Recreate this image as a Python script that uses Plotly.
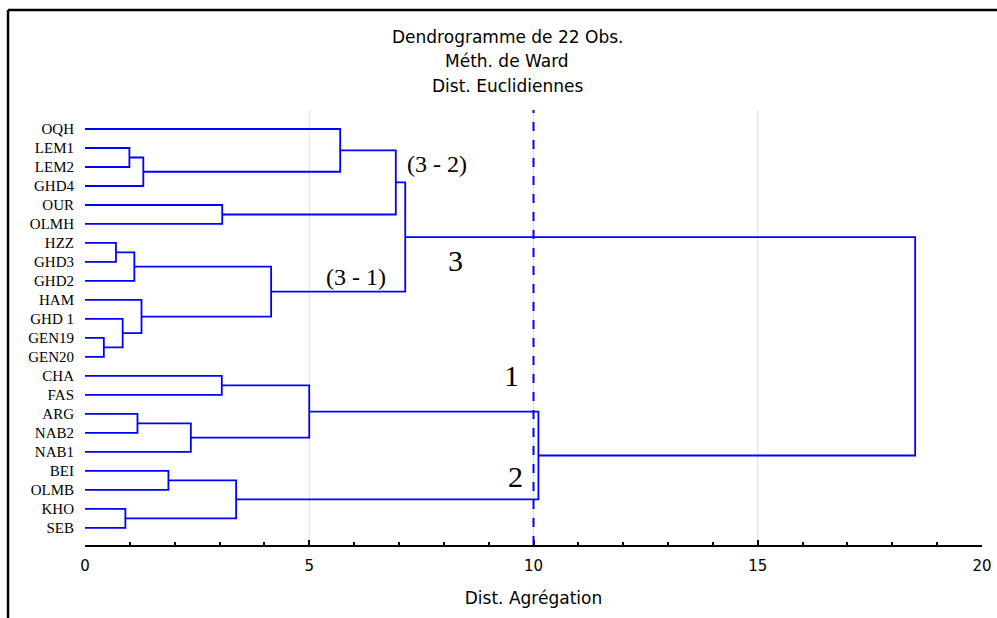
import plotly.graph_objects as go

# Leaves in display order (top to bottom)
labels = ["OQH", "LEM1", "LEM2", "GHD4", "OUR", "OLMH", "HZZ", "GHD3", "GHD2",
          "HAM", "GHD 1", "GEN19", "GEN20", "CHA", "FAS", "ARG", "NAB2", "NAB1",
          "BEI", "OLMB", "KHO", "SEB"]

# Linkage (scipy-like ids: 0..21 leaves, 22+ clusters in order of creation)
merge_left = [1, 22, 4, 6, 25, 11, 10, 9, 26, 0, 31, 32, 13, 15, 35, 34, 18, 20, 38, 37, 33]
merge_right = [2, 3, 5, 7, 8, 12, 27, 28, 29, 23, 24, 30, 14, 16, 17, 36, 19, 21, 39, 40, 41]
merge_height = [0.99, 1.30, 3.06, 0.69, 1.10, 0.42, 0.84, 1.26, 4.15, 5.69, 6.93, 7.14,
                3.05, 1.17, 2.36, 5.00, 1.86, 0.90, 3.37, 10.11, 18.51]

cut_level = [10]
grid_vals = [5, 10, 15]
x_ticks = [0, 5, 10, 15, 20]

title_lines = ["Dendrogramme de 22 Obs.", "Méth. de Ward", "Dist. Euclidiennes"]

ann_text = ["(3 - 2)", "(3 - 1)", "3", "1", "2"]
ann_x = [7.85, 6.04, 8.25, 9.5, 9.6]
ann_y = [1.85, 7.8, 6.9, 13.0, 18.3]
ann_size = [24, 24, 30, 30, 30]

# Build node coordinates
n = len(labels)
pos_y = {i: float(i) for i in range(n)}
pos_h = {i: 0.0 for i in range(n)}
xs, ys = [], []
for k, (a, b, h) in enumerate(zip(merge_left, merge_right, merge_height)):
    nid = n + k
    ya, yb = pos_y[a], pos_y[b]
    xs += [pos_h[a], h, h, pos_h[b], None]
    ys += [ya, ya, yb, yb, None]
    pos_y[nid] = (ya + yb) / 2
    pos_h[nid] = h

BLUE = "#0000FF"
fig = go.Figure()
fig.add_trace(go.Scatter(x=xs, y=ys, mode="lines",
                         line=dict(color=BLUE, width=1.8),
                         hoverinfo="skip", showlegend=False))

shapes = []
for g in grid_vals:
    shapes.append(dict(type="line", xref="x", yref="paper", x0=g, x1=g, y0=0, y1=1,
                       line=dict(color="#DDDDDD", width=1), layer="below"))
for c in cut_level:
    shapes.append(dict(type="line", xref="x", yref="paper", x0=c, x1=c, y0=0, y1=1,
                       line=dict(color=BLUE, width=2, dash="dash")))
# frame lines (left and top)
shapes.append(dict(type="line", xref="paper", yref="paper", x0=-0.0858, x1=-0.0858,
                   y0=1.2299, y1=-0.2, line=dict(color="black", width=2.5)))
shapes.append(dict(type="line", xref="paper", yref="paper", x0=-0.0858, x1=1.03,
                   y0=1.2299, y1=1.2299, line=dict(color="black", width=2.5)))

annotations = []
for t, ax_, ay_, s in zip(ann_text, ann_x, ann_y, ann_size):
    annotations.append(dict(x=ax_, y=ay_, xref="x", yref="y", text=t, showarrow=False,
                            font=dict(family="Liberation Serif", size=s, color="black")))
for t, py in zip(title_lines, [1.1678, 1.1115, 1.0552]):
    annotations.append(dict(x=0.4705, y=py, xref="paper", yref="paper", yanchor="middle",
                            showarrow=False, text=t,
                            font=dict(family="DejaVu Sans", size=17, color="black")))

fig.update_layout(
    width=997, height=618,
    margin=dict(l=85, r=15, t=110, b=73),
    plot_bgcolor="white", paper_bgcolor="white",
    shapes=shapes, annotations=annotations,
    xaxis=dict(range=[0, 20], tickvals=x_ticks, showgrid=False, zeroline=False,
               automargin=False,
               showline=True, linecolor="black", linewidth=2,
               ticks="inside", ticklen=5, tickwidth=2, tickcolor="black",
               minor=dict(dtick=1, ticks="inside", ticklen=3, tickwidth=1.5, tickcolor="black"),
               ticklabelstandoff=6,
               tickfont=dict(family="DejaVu Sans", size=15, color="black"),
               title=dict(text="Dist. Agrégation",
                          font=dict(family="DejaVu Sans", size=17, color="black"),
                          standoff=18)),
    yaxis=dict(range=[21.9, -1], tickvals=list(range(n)), ticktext=labels,
               automargin=False,
               showgrid=False, zeroline=False, showline=False, ticks="",
               ticklabelstandoff=10,
               tickfont=dict(family="Liberation Serif", size=15, color="black")),
)

fig.write_html("out.html",
               config={"displayModeBar": False},
               post_script="document.body.style.margin='0px';"
                           "document.body.style.overflow='hidden';")
